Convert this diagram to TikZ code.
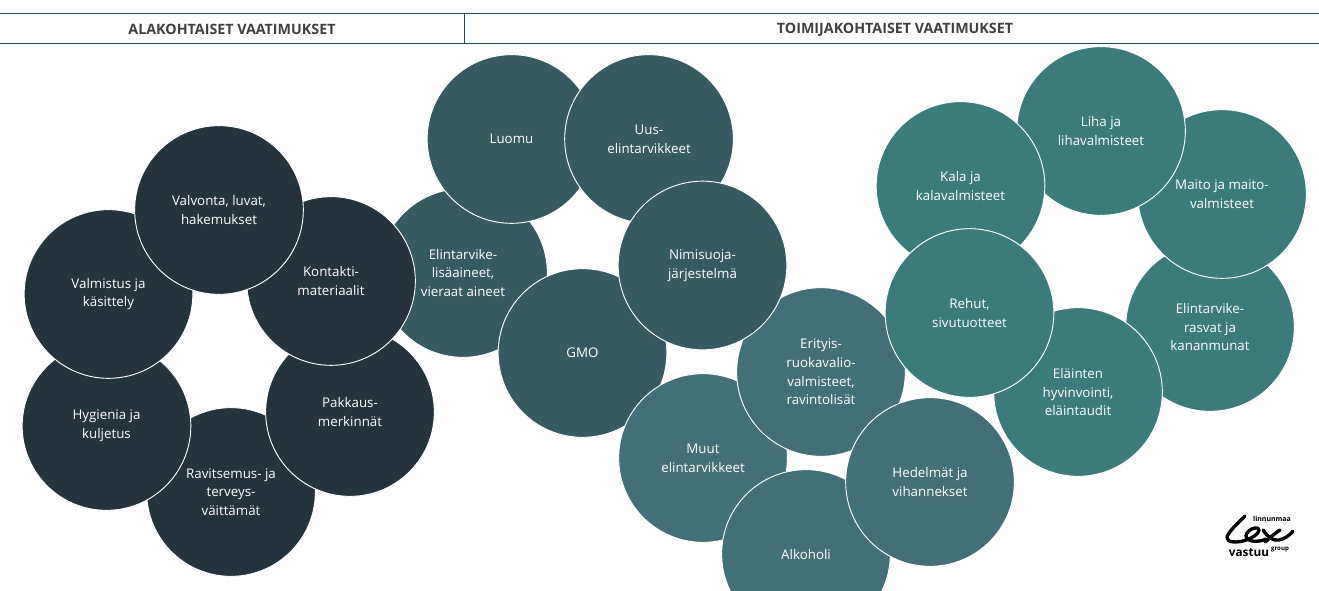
\documentclass[tikz,border=0pt]{standalone}
\usepackage{fontspec}
\setmainfont{Open Sans}
\usepackage{xcolor}
\usepackage{tikz}
\definecolor{rulecol}{HTML}{1F4E5A}
\definecolor{headtext}{HTML}{404040}
\definecolor{darkcol}{HTML}{24333C}
\definecolor{midcol}{HTML}{355A60}
\definecolor{lightcol}{HTML}{426F78}
\definecolor{tealcol}{HTML}{3B7C7B}

\begin{document}
\begin{tikzpicture}[
    x=0.75pt, y=-0.75pt,
    disc/.style    = {circle, draw=white, line width=0.7pt, minimum size=126.5pt,
                      inner sep=0pt, text=white, align=center,
                      font=\fontsize{10}{14}\selectfont},
    head/.style    = {font=\fontsize{10.7}{12}\selectfont\bfseries, text=headtext},
    rulec/.style   = {draw=rulecol, line width=0.7pt},
    logostroke/.style = {black, line width=2.5pt, line cap=round, line join=round}
]
\useasboundingbox (0,0) rectangle (1319,591);
\clip (0,0) rectangle (1319,591);

% Headings
\coordinate (topl) at (0,13);
\coordinate (topr) at (1319,13);
\coordinate (botl) at (0,43);
\coordinate (botr) at (1319,43);
\coordinate (sept) at (464.5,13);
\coordinate (sepb) at (464.5,43);
\draw[rulec] (topl) -- (topr);
\draw[rulec] (botl) -- (botr);
\draw[rulec] (sept) -- (sepb);
\node[head] (alahead) at (232,29.5) {ALAKOHTAISET VAATIMUKSET};
\node[head] (toimihead) at (895,29.5) {TOIMIJAKOHTAISET VAATIMUKSET};

% Middle group
\node[disc, fill=midcol] (lisa) at (463,273) {Elintarvike-\\lisäaineet,\\vieraat aineet};
\node[disc, fill=midcol] (gmo) at (582.5,353) {GMO};
\node[disc, fill=midcol] (luomu) at (511.5,139) {Luomu};
\node[disc, fill=midcol] (uus) at (649,139) {Uus-\\elintarvikkeet};

% Lower group
\node[disc, fill=lightcol] (muut) at (703,458) {Muut\\elintarvikkeet};
\node[disc, fill=lightcol] (erityis) at (821,372) {Erityis-\\ruokavalio-\\valmisteet,\\ravintolisät};
\node[disc, fill=lightcol] (alko) at (806,554) {Alkoholi};
\node[disc, fill=lightcol] (hede) at (930,482) {Hedelmät ja\\vihannekset};
\node[disc, fill=midcol] (nimi) at (702.5,265.5) {Nimisuoja-\\järjestelmä};

% Right group
\node[disc, fill=tealcol] (rasva) at (1210,327) {Elintarvike-\\rasvat ja\\kananmunat};
\node[disc, fill=tealcol] (maito) at (1222,194) {Maito ja maito-\\valmisteet};
\node[disc, fill=tealcol] (liha) at (1101,131) {Liha ja\\lihavalmisteet};
\node[disc, fill=tealcol] (kala) at (960.5,186) {Kala ja\\kalavalmisteet};
\node[disc, fill=tealcol] (elain) at (1078,392) {Eläinten\\hyvinvointi,\\eläintaudit};
\node[disc, fill=tealcol] (rehu) at (969.5,313) {Rehut,\\sivutuotteet};

% Left group
\node[disc, fill=darkcol] (ravit) at (231,492) {Ravitsemus- ja\\terveys-\\väittämät};
\node[disc, fill=darkcol] (pakkaus) at (350,412) {Pakkaus-\\merkinnät};
\node[disc, fill=darkcol] (hygi) at (106.5,426) {Hygienia ja\\kuljetus};
\node[disc, fill=darkcol] (kontakti) at (331,281) {Kontakti-\\materiaalit};
\node[disc, fill=darkcol] (valmis) at (108.5,294) {Valmistus ja\\käsittely};
\node[disc, fill=darkcol] (valvo) at (219,210) {Valvonta, luvat,\\hakemukset};

% Logo
\node[inner sep=0pt, font=\fontsize{5.2}{6}\selectfont\bfseries] (loglin) at (1272,518.5) {linnunmaa};
\node[inner sep=0pt, font=\fontsize{8.8}{10}\selectfont\bfseries] (logvas) at (1249,553) {vastuu};
\node[inner sep=0pt, font=\fontsize{4.6}{5}\selectfont\bfseries] (loggrp) at (1280,549.5) {group};
\draw[logostroke]
  (1245,516) .. controls (1238,523) and (1229,531) .. (1227,537)
  .. controls (1226,543) and (1238,543) .. (1246,540)
  .. controls (1252,538) and (1259,534) .. (1259,530)
  .. controls (1258,525) and (1246,530) .. (1246,536)
  .. controls (1247,543) and (1260,542) .. (1266,539);
\draw[logostroke]
  (1263,530) .. controls (1268,537) and (1272,541) .. (1279,540)
  .. controls (1285,539) and (1290,535) .. (1293,531);
\draw[logostroke]
  (1265,542) .. controls (1270,538) and (1275,533) .. (1280,530);
\end{tikzpicture}
\end{document}
